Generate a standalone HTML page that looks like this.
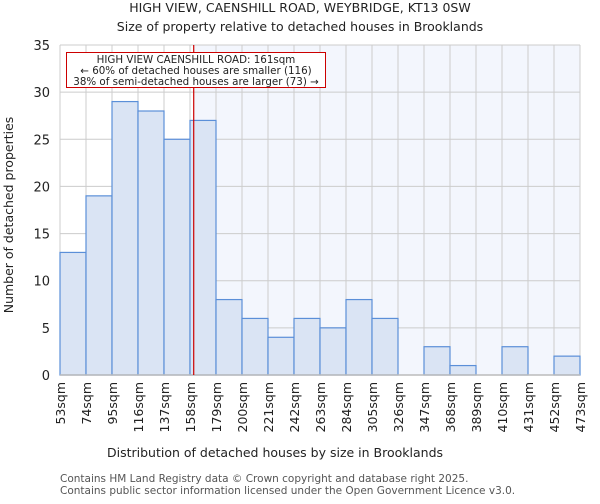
<!DOCTYPE html>
<html><head><meta charset="utf-8"><style>
body{margin:0;background:#fff;font-family:"DejaVu Sans","Liberation Sans",sans-serif}
svg text{font-family:"DejaVu Sans","Liberation Sans",sans-serif}
</style></head><body>
<svg id="c" width="600" height="500">
<text x="300" y="12" font-size="12.5" text-anchor="middle" fill="#222">HIGH VIEW, CAENSHILL ROAD, WEYBRIDGE, KT13 0SW</text>
<text x="300" y="31" font-size="12.5" text-anchor="middle" fill="#222">Size of property relative to detached houses in Brooklands</text>
<g id="plot"></g>
<text x="275" y="457" font-size="12.5" text-anchor="middle" fill="#222">Distribution of detached houses by size in Brooklands</text>
<text transform="translate(13,215) rotate(-90)" font-size="12.5" text-anchor="middle" fill="#222">Number of detached properties</text>
<text x="60" y="482" font-size="10.5" fill="#555">Contains HM Land Registry data © Crown copyright and database right 2025.</text>
<text x="60" y="494" font-size="10.5" fill="#555">Contains public sector information licensed under the Open Government Licence v3.0.</text>
</svg>
<script>
const binStarts=[53,74,95,116,137,158,179,200,221,242,263,284,305,326,347,368,389,410,431,452];
const tickLabels=["53sqm","74sqm","95sqm","116sqm","137sqm","158sqm","179sqm","200sqm","221sqm","242sqm","263sqm","284sqm","305sqm","326sqm","347sqm","368sqm","389sqm","410sqm","431sqm","452sqm","473sqm"];
const counts=[13,19,29,28,25,27,8,6,4,6,5,8,6,0,3,1,0,3,0,2];
const yTicks=[0,5,10,15,20,25,30,35];
const marker=161;
const NS="http://www.w3.org/2000/svg";
const X0=60,X1=580,Y0=375,Y1=45,xmin=53,xmax=473,ymax=35;
const xs=v=>X0+(v-xmin)/(xmax-xmin)*(X1-X0);
const ys=v=>Y0-v/ymax*(Y0-Y1);
const g=document.getElementById('plot');
function mk(t,a){const e=document.createElementNS(NS,t);for(const k in a)e.setAttribute(k,a[k]);g.appendChild(e);return e;}
let bg=mk('rect',{x:X0,y:Y1,width:X1-X0,height:Y0-Y1,fill:'#fff'});


let hl=mk('rect',{x:xs(marker),y:Y1,width:X1-xs(marker),height:Y0-Y1,fill:'#f3f6fd'});


yTicks.forEach(v=>{
 let l=mk('line',{x1:X0,x2:X1,y1:ys(v),y2:ys(v),stroke:'#ccc','stroke-width':1});
 
 
 let t=mk('text',{x:X0-10,y:ys(v)+5,'font-size':13,'text-anchor':'end',fill:'#222'});
 t.textContent=v;
 
 
});
tickLabels.forEach((s,i)=>{
 const v=xmin+i*21;
 let l=mk('line',{x1:xs(v),x2:xs(v),y1:Y1,y2:Y0,stroke:'#ccc','stroke-width':1});
 
 
 let t=mk('text',{transform:`translate(${xs(v)+5},382) rotate(-90)`,'font-size':12.5,'text-anchor':'end',fill:'#222'});
 t.textContent=s;
 
 
});
counts.forEach((c,i)=>{
 if(!c)return;
 const a=xs(binStarts[i]),b=xs(binStarts[i]+21);
 let r=mk('rect',{x:a,y:ys(c),width:b-a,height:Y0-ys(c),fill:'#dae4f4',stroke:'#5b8fd8','stroke-width':1.2});
 
 
});
let ax=mk('line',{x1:X0,x2:X1,y1:Y0,y2:Y0,stroke:'#bbb','stroke-width':1.5});


let ml=mk('line',{x1:xs(marker),x2:xs(marker),y1:Y1,y2:Y0,stroke:'#cc0000','stroke-width':1.2});


let box=mk('rect',{x:66.5,y:52.5,width:259,height:35,fill:'#fff',stroke:'#cc0000','stroke-width':1});


["HIGH VIEW CAENSHILL ROAD: 161sqm","← 60% of detached houses are smaller (116)","38% of semi-detached houses are larger (73) →"].forEach((s,i)=>{
 let t=mk('text',{x:196,y:63+i*11,'font-size':10.3,'text-anchor':'middle',fill:'#222'});
 t.textContent=s;
 
 
});
</script>
</body></html>
